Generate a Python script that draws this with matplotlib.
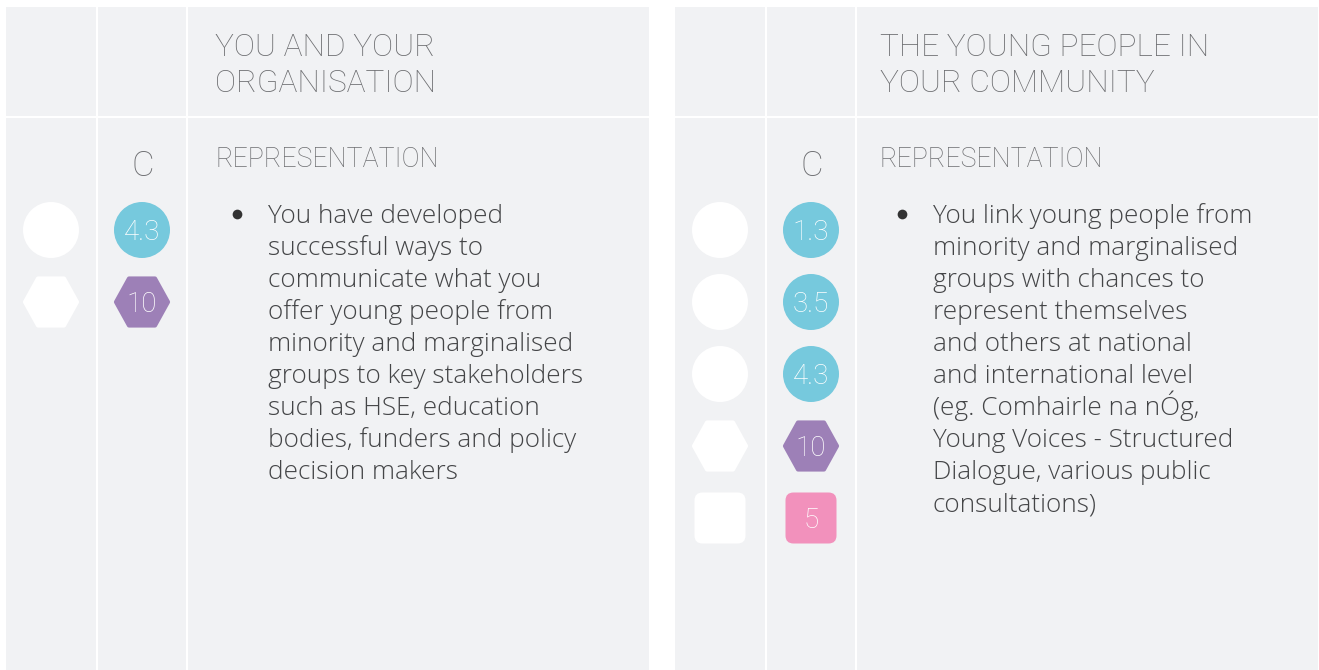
import numpy as np
import matplotlib
matplotlib.use("Agg")
import matplotlib.pyplot as plt
from matplotlib.patches import Circle, Polygon, FancyBboxPatch, Rectangle

# ---- data ----
titles = ["YOU AND YOUR\nORGANISATION", "THE YOUNG PEOPLE IN\nYOUR COMMUNITY"]
section = "REPRESENTATION"
level = "C"

left_scores = ["4.3", "10"]
left_shapes = ["circle", "hexagon"]
right_scores = ["1.3", "3.5", "4.3", "10", "5"]
right_shapes = ["circle", "circle", "circle", "hexagon", "square"]

left_lines = [
    "You have developed",
    "successful ways to",
    "communicate what you",
    "offer young people from",
    "minority and marginalised",
    "groups to key stakeholders",
    "such as HSE, education",
    "bodies, funders and policy",
    "decision makers",
]
right_lines = [
    "You link young people from",
    "minority and marginalised",
    "groups with chances to",
    "represent themselves",
    "and others at national",
    "and international level",
    "(eg. Comhairle na nÓg,",
    "Young Voices - Structured",
    "Dialogue, various public",
    "consultations)",
]

# ---- style ----
W, H = 1319, 670
BG = "#f1f2f4"
HEAD = "#6d6e71"
BODY = "#444547"
shape_color = {"circle": "#76c9dd", "hexagon": "#9d80b7", "square": "#f291bc"}
FONT = "Roboto"
BODY_FONT = "Open Sans"

fig = plt.figure(figsize=(W / 100, H / 100), dpi=100)
ax = fig.add_axes([0, 0, 1, 1])
ax.set_xlim(0, W)
ax.set_ylim(H, 0)
ax.axis("off")


def badge(kind, cx, cy, color, label=None):
    if kind == "circle":
        p = Circle((cx, cy), 28, fc=color, ec="none")
    elif kind == "hexagon":
        pts = [(cx - 26, cy), (cx - 13, cy - 23.5), (cx + 13, cy - 23.5),
               (cx + 26, cy), (cx + 13, cy + 23.5), (cx - 13, cy + 23.5)]
        p = Polygon(pts, closed=True, fc=color, ec=color, lw=3, joinstyle="round")
    else:
        p = FancyBboxPatch((cx - 25.5, cy - 25.5), 51, 51,
                           boxstyle="round,pad=0,rounding_size=8", fc=color, ec="none")
    ax.add_patch(p)
    if label is not None:
        ax.text(cx, cy + 10, label, ha="center", va="baseline", color="white",
                fontsize=20, family=FONT, fontweight="light")


def panel(x0, tx, title, scores, shapes, lines):
    ax.add_patch(Rectangle((x0, 7), 643, H - 7, fc=BG, ec="none"))
    # white dividers
    for dx in (90, 180):
        ax.add_patch(Rectangle((x0 + dx, 7), 2, H - 7, fc="white", ec="none"))
    ax.add_patch(Rectangle((x0, 116), 643, 2, fc="white", ec="none"))

    t1, t2 = title.split("\n")
    ax.text(tx, 56, t1, color=HEAD, fontsize=22.8, family=FONT, fontweight="light", va="baseline")
    ax.text(tx, 92, t2, color=HEAD, fontsize=22.8, family=FONT, fontweight="light", va="baseline")
    ax.text(tx, 167, section, color=HEAD, fontsize=19.3, family=FONT, fontweight="light", va="baseline")
    ax.text(x0 + 137, 176, level, color=HEAD, fontsize=25, family=FONT, fontweight="light",
            va="baseline", ha="center")

    for i, (s, k) in enumerate(zip(scores, shapes)):
        cy = 230 + 72 * i
        badge(k, x0 + 45, cy, "white")
        badge(k, x0 + 136, cy, shape_color[k], s)

    ax.plot(tx + 22, 214, "o", color="#333333", ms=7, mec="none")
    for i, ln in enumerate(lines):
        ax.text(tx + 53, 223 + 32 * i, ln, color=BODY, fontsize=18.8, family=BODY_FONT,
                fontweight="light", va="baseline")


panel(6, 215, titles[0], left_scores, left_shapes, left_lines)
panel(675, 880, titles[1], right_scores, right_shapes, right_lines)

fig.savefig("out.png", dpi=100, facecolor="white")
